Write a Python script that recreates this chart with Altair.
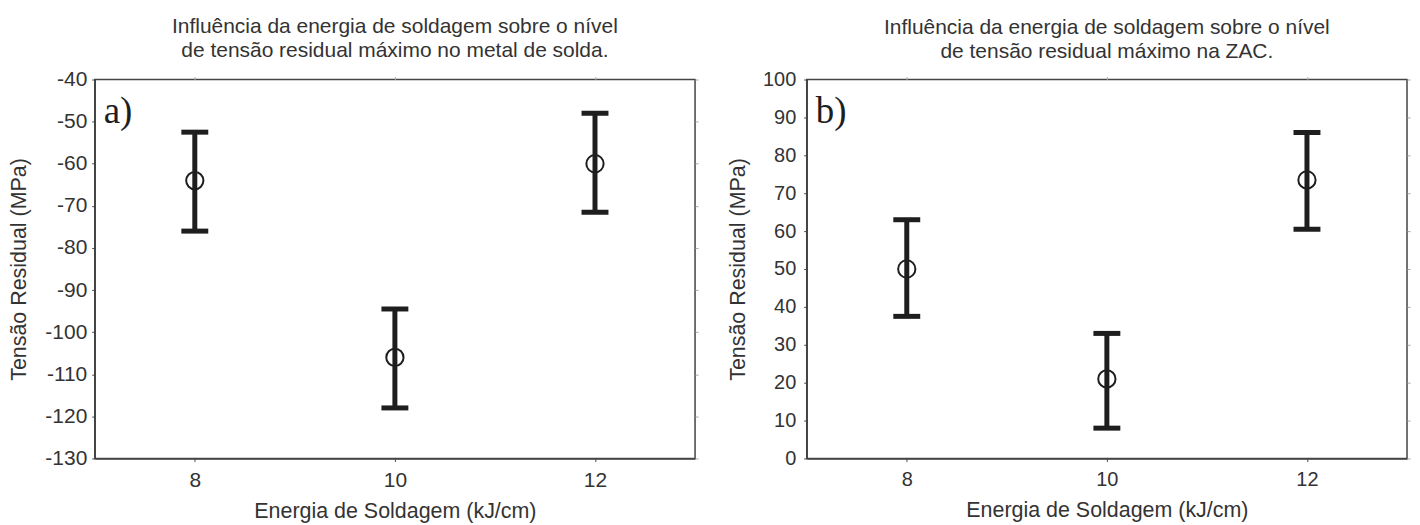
import altair as alt
import pandas as pd

energia = [8, 10, 12]
media_a = [-64, -106, -60]
sup_a = [-52.5, -94.5, -48]
inf_a = [-76, -118, -71.5]

media_b = [50, 21, 73.5]
sup_b = [63, 33, 86]
inf_b = [37.5, 8, 60.5]

titulo_a = ["Influência da energia de soldagem sobre o nível",
            "de tensão residual máximo no metal de solda."]
titulo_b = ["Influência da energia de soldagem sobre o nível",
            "de tensão residual máximo na ZAC."]
x_titulo = "Energia de Soldagem (kJ/cm)"
y_titulo = "Tensão Residual (MPa)"

FONT = "Liberation Sans, Arial"
TXT = "#333333"
INK = "#1e1e1e"
W, H = 602, 380
LABEL_EXPR = "datum.value < 0 ? '-' + abs(datum.value) : '' + datum.value"


def panel(media, sup, inf, dom, titulo, letra, lab_fs, lab_pad, ttl_pad):
    df = pd.DataFrame({"e": energia, "m": media, "s": sup, "i": inf})
    yvals = list(range(dom[0], dom[1] + 1, 10))
    xs = alt.Scale(domain=[7, 13], nice=False, zero=False)
    ys = alt.Scale(domain=dom, nice=False, zero=False)
    base = alt.Chart(df)
    xax = alt.Axis(values=energia, title=x_titulo, grid=False, tickSize=3,
                   labelPadding=8, titlePadding=10, labelFontSize=lab_fs)
    yax = alt.Axis(values=yvals, title=y_titulo, grid=False, tickSize=3,
                   labelPadding=lab_pad, titlePadding=ttl_pad,
                   labelFontSize=lab_fs, labelExpr=LABEL_EXPR)
    rule = base.mark_rule(color=INK, strokeWidth=5).encode(
        x=alt.X("e:Q", scale=xs, axis=xax),
        y=alt.Y("i:Q", scale=ys, axis=yax),
        y2="s:Q",
    )
    cap_hi = base.mark_tick(orient="horizontal", color=INK, thickness=5,
                            size=27, opacity=1).encode(
        x=alt.X("e:Q", scale=xs, axis=None), y=alt.Y("s:Q", scale=ys, axis=None))
    cap_lo = base.mark_tick(orient="horizontal", color=INK, thickness=5,
                            size=27, opacity=1).encode(
        x=alt.X("e:Q", scale=xs, axis=None), y=alt.Y("i:Q", scale=ys, axis=None))
    pts = base.mark_point(shape="circle", size=300, filled=False,
                          color=INK, strokeWidth=2, opacity=1).encode(
        x=alt.X("e:Q", scale=xs,
                axis=alt.Axis(orient="top", values=energia, labels=False,
                              title=None, grid=False, tickSize=3,
                              tickColor="#aaaaaa", domain=False)),
        y=alt.Y("m:Q", scale=ys,
                axis=alt.Axis(orient="right", values=yvals,
                              labels=False, title=None, grid=False, tickSize=3,
                              tickColor="#aaaaaa", domain=False)),
    )
    lab = alt.Chart(pd.DataFrame({"t": [letra]})).mark_text(
        font="Liberation Serif, DejaVu Serif, serif", fontSize=37,
        align="left", baseline="middle", color=INK).encode(
        text="t:N", x=alt.value(9), y=alt.value(33))
    ch = alt.layer(rule, cap_hi, cap_lo, pts, lab).resolve_axis(
        x="independent", y="independent").properties(
        width=W, height=H,
        title=alt.TitleParams(text=titulo, font=FONT, fontSize=21,
                              fontWeight="normal", color=TXT,
                              lineHeight=24, offset=8, anchor="middle"))
    return ch


a = panel(media_a, sup_a, inf_a, [-130, -40], titulo_a, "a)", 21, 5, 14)
b = panel(media_b, sup_b, inf_b, [0, 100], titulo_b, "b)", 20, 8, 13)

chart = alt.hconcat(a, b, spacing=26).configure(
    background="white", padding={"left": 0, "top": 6, "right": 0, "bottom": 0}
).configure_view(
    stroke="#444444", strokeWidth=1.5
).configure_axis(
    labelFont=FONT, titleFont=FONT, labelFontSize=21, titleFontSize=21.5,
    labelColor=TXT, titleColor=TXT, titleFontWeight="normal",
    domainColor="#444444", tickColor="#444444", domainWidth=1.5,
)

chart.save("out.html", embed_options={"renderer": "svg", "actions": False})
